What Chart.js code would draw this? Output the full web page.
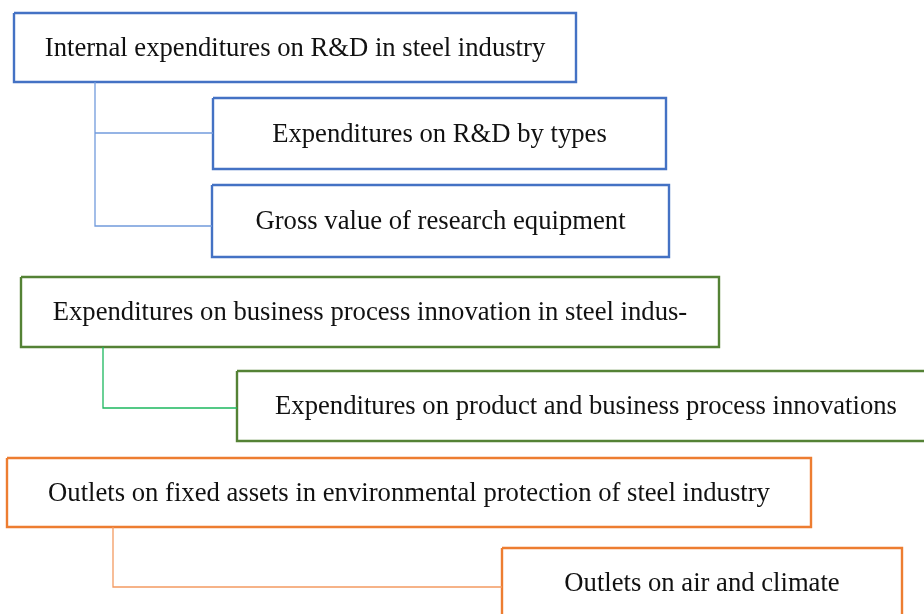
<!DOCTYPE html>
<html>
<head>
<meta charset="utf-8">
<script src="https://cdn.jsdelivr.net/npm/chart.js@4"></script>
<style>
  html, body { margin: 0; padding: 0; background: #fff; }
  canvas { display: block; }
</style>
</head>
<body>
<canvas id="chart" width="924" height="614"></canvas>
<script>
// box texts, top to bottom
const labels = [
    'Internal expenditures on R&D in steel industry',
    'Expenditures on R&D by types',
    'Gross value of research equipment',
    'Expenditures on business process innovation in steel indus-',
    'Expenditures on product and business process innovations',
    'Outlets on fixed assets in environmental protection of steel industry',
    'Outlets on air and climate'
];
// group of each box: 0 = R&D, 1 = innovation, 2 = environment
const groups = [0, 0, 0, 1, 1, 2, 2];

// box extents in diagram units
const boxLeft   = [14, 213, 212, 21, 237, 7, 502];
const boxRight  = [576, 666, 669, 719, 935, 811, 902];
const boxTop    = [13, 98, 185, 277, 371, 458, 548];
const boxBottom = [82, 169, 257, 347, 441, 527, 618];

// connector polylines: [group, xs, ys]
const connectors = [
    [0, [95, 95, 212], [82, 226, 226]],
    [0, [95, 213], [133, 133]],
    [1, [103, 103, 237], [347, 408, 408]],
    [2, [113, 113, 502], [527, 587, 587]]
];

const boxColors  = ['#4472C4', '#548235', '#ED7D31'];
const lineColors = ['#729BDC', '#1DB85F', '#F39B62'];

drawChart();

function drawChart() {
    let datasets = [];

    connectors.forEach(c => {
        datasets.push({
            data: c[1].map((x, i) => ({ x: x, y: c[2][i] })),
            showLine: true,
            borderColor: lineColors[c[0]],
            borderWidth: 1.3,
            pointRadius: 0,
            clip: false
        });
    });

    labels.forEach((l, i) => {
        const x0 = boxLeft[i], x1 = boxRight[i], y0 = boxTop[i], y1 = boxBottom[i];
        datasets.push({
            data: [
                { x: x0, y: y0 }, { x: x1, y: y0 }, { x: x1, y: y1 },
                { x: x0, y: y1 }, { x: x0, y: y0 }
            ],
            showLine: true,
            borderColor: boxColors[groups[i]],
            borderWidth: 2.4,
            borderJoinStyle: 'miter',
            pointRadius: 0,
            clip: false
        });
    });

    // writes the label in the middle of each box
    const boxText = {
        id: 'boxText',
        afterDatasetsDraw(chart) {
            const ctx = chart.ctx;
            const xs = chart.scales.x, ys = chart.scales.y;
            const fam = '"Liberation Serif", "DejaVu Serif", serif';
            // size the font so the long bottom label matches the reference width
            ctx.save();
            ctx.font = '20px ' + fam;
            const w = ctx.measureText(labels[5]).width;
            const size = 20 * 722 / w;
            ctx.font = size.toFixed(2) + 'px ' + fam;
            ctx.fillStyle = '#111';
            ctx.textAlign = 'center';
            ctx.textBaseline = 'middle';
            labels.forEach((l, i) => {
                const cx = xs.getPixelForValue((boxLeft[i] + boxRight[i]) / 2);
                const cy = ys.getPixelForValue((boxTop[i] + boxBottom[i]) / 2);
                ctx.fillText(l, cx, cy + 1);
            });
            ctx.restore();
        }
    };

    new Chart(document.getElementById('chart'), {
        type: 'scatter',
        data: { datasets: datasets },
        options: {
            responsive: false,
            animation: false,
            layout: { padding: 0 },
            plugins: { legend: { display: false }, tooltip: { enabled: false } },
            scales: {
                x: { type: 'linear', min: 0, max: 924, display: false },
                y: { type: 'linear', min: 0, max: 614, reverse: true, display: false }
            }
        },
        plugins: [boxText]
    });
}
</script>
</body>
</html>
